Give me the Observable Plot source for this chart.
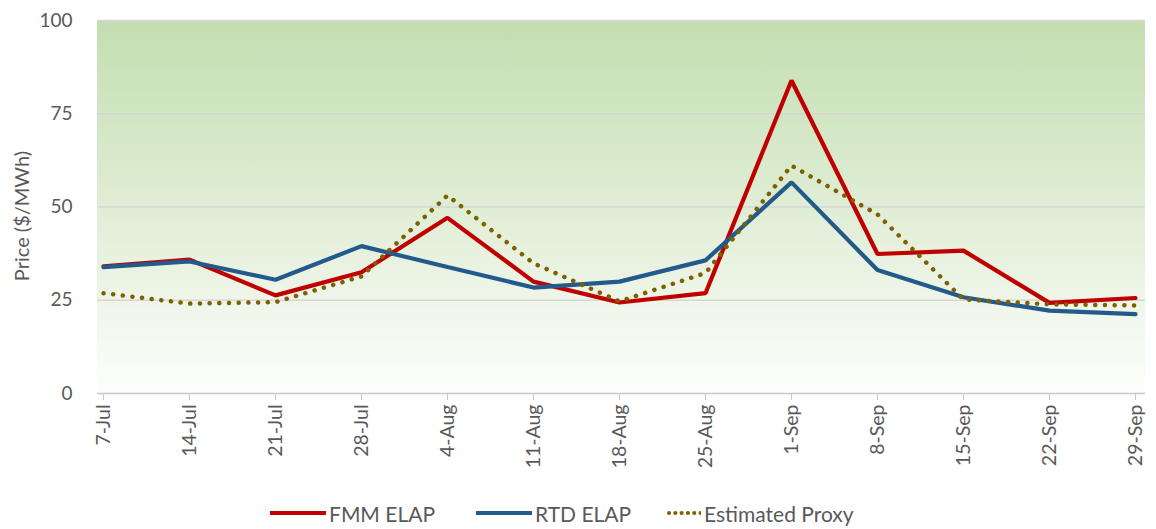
<!DOCTYPE html>
<html>
<head>
<meta charset="utf-8">
<script src="https://cdn.jsdelivr.net/npm/d3@7"></script>
<script src="https://cdn.jsdelivr.net/npm/@observablehq/plot@0.6"></script>
<style>
  html, body { margin: 0; padding: 0; background: #ffffff; }
  #chart { width: 1156px; height: 529px; position: relative; font-family: Lato, "Open Sans", sans-serif; }
  #legend { position: absolute; left: 0; top: 499px; width: 1156px; height: 28px; }
  .item { position: absolute; top: 0; height: 28px; display: flex; align-items: center; font-size: 21px; color: #595959; }
  .item svg { margin-right: 3px; }
</style>
</head>
<body>
<div id="chart"></div>
<script>
const dates = ["7-Jul","14-Jul","21-Jul","28-Jul","4-Aug","11-Aug","18-Aug","25-Aug","1-Sep","8-Sep","15-Sep","22-Sep","29-Sep"];
const fmmElap = [34.1, 35.9, 26.3, 32.5, 47.1, 30.0, 24.4, 26.9, 83.9, 37.4, 38.3, 24.3, 25.6];
const rtdElap = [33.9, 35.4, 30.5, 39.5, 33.9, 28.4, 30.0, 35.7, 56.6, 33.1, 25.8, 22.2, 21.3];
const proxy   = [26.9, 24.1, 24.5, 31.4, 53.1, 34.9, 24.7, 32.3, 61.1, 48.0, 25.2, 23.9, 23.6];
const yTicks = [0, 25, 50, 75, 100];
const seriesNames = ["FMM ELAP", "RTD ELAP", "Estimated Proxy"];
const seriesColors = ["#C00000", "#235A8C", "#7F6000"];

const rows = (vals) => dates.map((d, i) => ({date: d, value: vals[i]}));

const W = 1156, H = 490;
const plot = Plot.plot({
  width: W,
  height: H,
  marginLeft: 97,
  marginRight: 11,
  marginTop: 20,
  marginBottom: 97,
  style: {fontFamily: "Lato, 'Open Sans', sans-serif", background: "transparent", overflow: "visible"},
  x: {type: "point", domain: dates, range: [97, 1140], padding: 0, label: null},
  y: {domain: [0, 100], label: null},
  marks: [
    Plot.gridY(yTicks.filter(t => t > 0), {stroke: "#d6d6d6", strokeOpacity: 1, strokeWidth: 1.3}),
    Plot.ruleY([0], {stroke: "#c8c8c8", strokeWidth: 1.5}),
    Plot.axisY(yTicks, {tickSize: 0, tickPadding: 25, fontSize: 19, fill: "#595959", label: null}),
    Plot.axisX(dates, {tickSize: 7, tickPadding: 4, tickRotate: -90, fontSize: 19.5, fill: "#595959", stroke: "#c8c8c8", label: null}),
    Plot.text(["Price ($/MWh)"], {frameAnchor: "left", textAnchor: "middle", dx: -75, dy: 9, rotate: -90, fontSize: 20, fill: "#595959"}),
    Plot.line(rows(fmmElap), {x: "date", y: "value", stroke: seriesColors[0], strokeWidth: 4.2, strokeLinejoin: "miter"}),
    Plot.line(rows(rtdElap), {x: "date", y: "value", stroke: seriesColors[1], strokeWidth: 4.2, strokeLinejoin: "miter"}),
    Plot.line(rows(proxy), {x: "date", y: "value", stroke: seriesColors[2], strokeWidth: 4.5, strokeLinecap: "round", strokeDasharray: "0.1 9.6"})
  ]
});

// gradient background behind plot area
const svg = d3.select(plot);
const defs = svg.insert("defs", ":first-child");
const grad = defs.append("linearGradient").attr("id", "bgGrad").attr("x1", 0).attr("y1", 0).attr("x2", 0).attr("y2", 1);
grad.append("stop").attr("offset", "0%").attr("stop-color", "#c3deb0");
grad.append("stop").attr("offset", "55%").attr("stop-color", "#e3efd9");
grad.append("stop").attr("offset", "100%").attr("stop-color", "#fdfefc");
svg.insert("rect", "defs + *")
  .attr("x", 97).attr("y", 20).attr("width", 1145 - 97).attr("height", 393 - 20)
  .attr("fill", "url(#bgGrad)");

const chart = document.getElementById("chart");
chart.appendChild(plot);

// legend
const legend = document.createElement("div");
legend.id = "legend";
const lefts = [270, 476, 667];
const swW = [56, 56, 34];
seriesNames.forEach((name, i) => {
  const it = document.createElement("div");
  it.className = "item";
  it.style.left = lefts[i] + "px";
  const dash = i === 2 ? 'stroke-dasharray="0.1 6.2" stroke-linecap="round"' : '';
  it.innerHTML = `<svg width="${swW[i]}" height="10"><line x1="${i===2?2:0}" y1="5" x2="${swW[i]}" y2="5" stroke="${seriesColors[i]}" stroke-width="${i===2?4:4.2}" ${dash}/></svg><span>${name}</span>`;
  legend.appendChild(it);
});
chart.appendChild(legend);
</script>
</body>
</html>
